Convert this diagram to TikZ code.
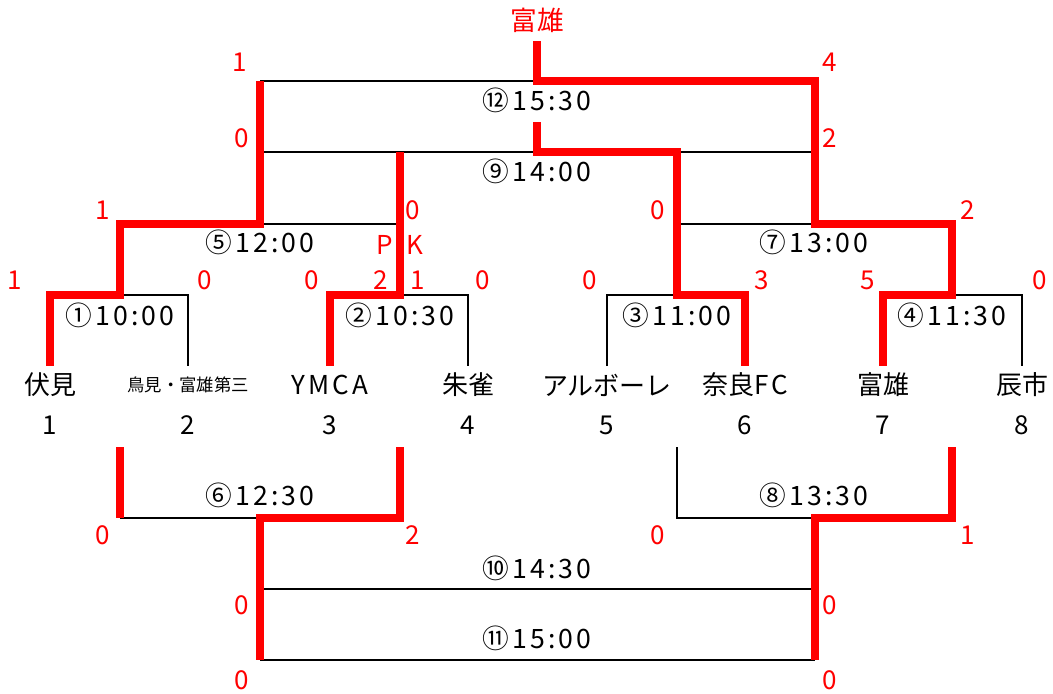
\documentclass[tikz,border=0pt]{standalone}
\usepackage{fontspec}
\setmainfont{Noto Sans CJK JP}
\newfontfamily\widefont[LetterSpace=12]{Noto Sans CJK JP}
\begin{document}
\begin{tikzpicture}[x=0.75pt,y=-0.75pt,
  blk/.style={line width=2pt, draw=black, line join=miter},
  rd/.style={line width=6pt, draw=red, line join=miter},
  tm/.style={font=\widefont\fontsize{20}{20}\selectfont, inner sep=0pt},
  sc/.style={text=red, font=\fontsize{19.5}{20}\selectfont, inner sep=0pt},
  tn/.style={font=\fontsize{19.5}{20}\selectfont, inner sep=0pt},
  tw/.style={font=\widefont\fontsize{19.5}{20}\selectfont, inner sep=0pt},
  tsmall/.style={font=\fontsize{13}{14}\selectfont, inner sep=0pt},
]
\useasboundingbox (0,0) rectangle (1053,693);
% coordinates
\foreach \n/\x in {1/50,2/188,3/330,4/468,5/607,6/745,7/883,8/1022}{
  \coordinate (a\n) at (\x,366);
  \coordinate (p\n) at (\x,295);
}
\coordinate (r1) at (120,295); \coordinate (r2) at (400,295);
\coordinate (r3) at (677,295); \coordinate (r4) at (952,295);
\coordinate (q1) at (120,224); \coordinate (q2) at (260,224); \coordinate (q3) at (400,224);
\coordinate (q4) at (677,224); \coordinate (q5) at (815,224); \coordinate (q6) at (952,224);
\coordinate (s0) at (537,122);
\coordinate (s1) at (260,152); \coordinate (s2) at (400,152); \coordinate (s3) at (537,152);
\coordinate (s4) at (677,152); \coordinate (s5) at (815,152);
\coordinate (f0) at (537,41);
\coordinate (f1) at (260,81); \coordinate (f2) at (537,81); \coordinate (f3) at (815,81);
\coordinate (b1) at (120,447); \coordinate (b2) at (400,447); \coordinate (b3) at (677,447); \coordinate (b4) at (952,447);
\coordinate (c1) at (120,518); \coordinate (c2) at (260,518); \coordinate (c3) at (400,518);
\coordinate (c4) at (677,518); \coordinate (c5) at (815,518); \coordinate (c6) at (952,518);
\coordinate (d1) at (260,589); \coordinate (d2) at (815,589);
\coordinate (e1) at (260,660); \coordinate (e2) at (815,660);

% black lines
\draw[blk] (f1) -- (f2);
\draw[blk] (s1) -- (s5);
\draw[blk] (q2) -- (q3);
\draw[blk] (q4) -- (q5);
\draw[blk] (r1) -- (p2) -- (a2);
\draw[blk] (r2) -- (p4) -- (a4);
\draw[blk] (a5) -- (p5) -- (r3);
\draw[blk] (r4) -- (p8) -- (a8);
\draw[blk] (c1) -- (c2);
\draw[blk] (b3) -- (c4) -- (c5);
\draw[blk] (d1) -- (d2);
\draw[blk] (e1) -- (e2);

% red lines
\draw[rd] (f0) -- (f2) -- (f3) -- (q5) -- (q6) -- (r4) -- (p7) -- (a7);
\draw[rd] (f1) -- (q2) -- (q1) -- (r1) -- (p1) -- (a1);
\draw[rd] (s0) -- (s3) -- (s4) -- (r3) -- (p6) -- (a6);
\draw[rd] (s2) -- (r2) -- (p3) -- (a3);
\draw[rd] (b1) -- (c1);
\draw[rd] (b2) -- (c3) -- (c2) -- (e1);
\draw[rd] (b4) -- (c6) -- (c5) -- (e2);

% title
\node[sc, font=\fontsize{20}{20}\selectfont] (champ) at (537,20) {富雄};

% time labels
\node[tm] (m12) at (537,100) {⑫15:30};
\node[tm] (m9) at (537,171) {⑨14:00};
\node[tm] (m5) at (260,242) {⑤12:00};
\node[tm] (m7) at (814,242) {⑦13:00};
\node[tm] (m1) at (120,315) {①10:00};
\node[tm] (m2) at (400,315) {②10:30};
\node[tm] (m3) at (677,315) {③11:00};
\node[tm] (m4) at (952,315) {④11:30};
\node[tm] (m6) at (260,495) {⑥12:30};
\node[tm] (m8) at (814,495) {⑧13:30};
\node[tm] (m10) at (537,568) {⑩14:30};
\node[tm] (m11) at (537,638) {⑪15:00};

% teams
\node[tn] (t1) at (50,385) {伏見};
\node[tsmall] (t2) at (188,385) {鳥見・富雄第三};
\node[tw] (t3) at (330,385) {YMCA};
\node[tn] (t4) at (468,385) {朱雀};
\node[tn] (t5) at (607,385) {アルボーレ};
\node[tn] (t6) at (745,385) {奈良\widefont FC};
\node[tn] (t7) at (883,385) {富雄};
\node[tn] (t8) at (1022,385) {辰市};
\foreach \n/\x in {1/50,2/188,3/330,4/468,5/607,6/745,7/883,8/1022}{
  \node[tn] (n\n) at (\x,425) {\n};
}

% scores
\node[sc] (s12a) at (240,62) {1};
\node[sc] (s12b) at (830,62) {4};
\node[sc] (s9a) at (242,138) {0};
\node[sc] (s9b) at (830,138) {2};
\node[sc] (s5a) at (103,210) {1};
\node[sc] (s5b) at (413,210) {0};
\node[sc] (s7a) at (658,210) {0};
\node[sc] (s7b) at (968,210) {2};
\node[sc] (pkp) at (385,245) {P};
\node[sc] (pkk) at (415,245) {K};
\node[sc] (s1a) at (15,280) {1};
\node[sc] (s1b) at (205,280) {0};
\node[sc] (s2a) at (312,280) {0};
\node[sc] (s2p) at (381,280) {2};
\node[sc] (s2q) at (418,280) {1};
\node[sc] (s2b) at (483,280) {0};
\node[sc] (s3a) at (590,280) {0};
\node[sc] (s3b) at (762,280) {3};
\node[sc] (s4a) at (868,280) {5};
\node[sc] (s4b) at (1040,280) {0};
\node[sc] (s6a) at (103,535) {0};
\node[sc] (s6b) at (413,535) {2};
\node[sc] (s8a) at (658,535) {0};
\node[sc] (s8b) at (968,535) {1};
\node[sc] (s10a) at (242,605) {0};
\node[sc] (s10b) at (830,605) {0};
\node[sc] (s11a) at (242,680) {0};
\node[sc] (s11b) at (830,680) {0};
\end{tikzpicture}
\end{document}
